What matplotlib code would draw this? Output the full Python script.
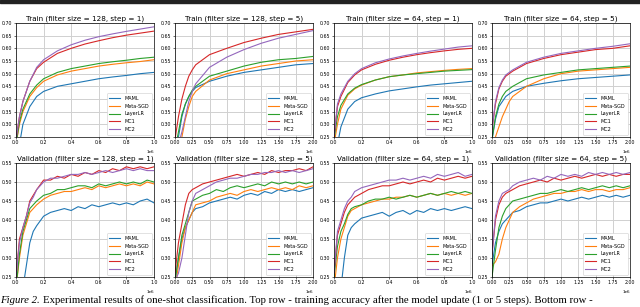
import matplotlib
matplotlib.use("Agg")
import matplotlib.pyplot as plt
from matplotlib.patches import Rectangle

names = ['MAML', 'Meta-SGD', 'LayerLR', 'MC1', 'MC2']
colors = ['#1f77b4', '#ff7f0e', '#2ca02c', '#d62728', '#9467bd']

# x in millions of iterations
train_x1 = [0, .025, .05, .1, .15, .2, .3, .4, .5, .6, .7, .8, .9, 1.0]
train_x5 = [0, .05, .1, .15, .2, .25, .3, .5, .75, 1.0, 1.25, 1.5, 1.75, 2.0]
val_x1 = [0, .025, .05, .075, .1, .125, .15, .2, .25, .3, .35, .4, .45, .5,
          .55, .6, .65, .7, .75, .8, .85, .9, .95, 1.0]
val_x5 = [0, .05, .1, .15, .2, .25, .3, .4, .5, .6, .7, .8, .9, 1.0,
          1.1, 1.2, 1.3, 1.4, 1.5, 1.6, 1.7, 1.8, 1.9, 2.0]

# Train (filter size = 128, step = 1)
tr128_1 = [
    [0.15, 0.22, 0.30, 0.37, 0.41, 0.43, 0.45, 0.46, 0.47, 0.48, 0.487, 0.493, 0.50, 0.505],
    [0.22, 0.30, 0.35, 0.41, 0.445, 0.47, 0.495, 0.51, 0.52, 0.53, 0.537, 0.543, 0.548, 0.555],
    [0.22, 0.31, 0.36, 0.42, 0.455, 0.48, 0.505, 0.52, 0.53, 0.54, 0.547, 0.553, 0.56, 0.565],
    [0.24, 0.33, 0.39, 0.47, 0.52, 0.545, 0.58, 0.60, 0.617, 0.63, 0.642, 0.652, 0.66, 0.668],
    [0.24, 0.33, 0.39, 0.47, 0.525, 0.555, 0.59, 0.614, 0.632, 0.646, 0.657, 0.667, 0.676, 0.685],
]
# Train (filter size = 128, step = 5)
tr128_5 = [
    [0.20, 0.25, 0.33, 0.38, 0.41, 0.43, 0.445, 0.47, 0.49, 0.505, 0.515, 0.525, 0.535, 0.54],
    [0.18, 0.20, 0.25, 0.32, 0.37, 0.41, 0.43, 0.475, 0.50, 0.515, 0.53, 0.54, 0.55, 0.555],
    [0.20, 0.27, 0.34, 0.38, 0.41, 0.435, 0.45, 0.49, 0.51, 0.53, 0.545, 0.555, 0.56, 0.568],
    [0.24, 0.33, 0.40, 0.45, 0.49, 0.515, 0.535, 0.575, 0.60, 0.623, 0.64, 0.655, 0.665, 0.675],
    [0.18, 0.22, 0.27, 0.33, 0.39, 0.43, 0.46, 0.525, 0.565, 0.595, 0.62, 0.64, 0.655, 0.67],
]
# Train (filter size = 64, step = 1)
tr64_1 = [
    [0.15, 0.22, 0.29, 0.36, 0.39, 0.405, 0.42, 0.432, 0.44, 0.448, 0.455, 0.46, 0.465, 0.47],
    [0.22, 0.30, 0.36, 0.415, 0.44, 0.455, 0.475, 0.488, 0.495, 0.503, 0.508, 0.513, 0.517, 0.52],
    [0.24, 0.33, 0.375, 0.42, 0.443, 0.457, 0.475, 0.488, 0.495, 0.50, 0.505, 0.51, 0.513, 0.516],
    [0.25, 0.37, 0.41, 0.465, 0.495, 0.515, 0.537, 0.553, 0.565, 0.575, 0.583, 0.59, 0.596, 0.60],
    [0.25, 0.38, 0.42, 0.47, 0.50, 0.52, 0.543, 0.558, 0.57, 0.58, 0.589, 0.597, 0.605, 0.61],
]
# Train (filter size = 64, step = 5)
tr64_5 = [
    [0.24, 0.32, 0.37, 0.39, 0.41, 0.42, 0.43, 0.45, 0.462, 0.472, 0.48, 0.485, 0.49, 0.495],
    [0.20, 0.25, 0.29, 0.33, 0.36, 0.39, 0.41, 0.45, 0.48, 0.50, 0.51, 0.515, 0.52, 0.525],
    [0.24, 0.33, 0.38, 0.41, 0.43, 0.44, 0.45, 0.48, 0.495, 0.505, 0.515, 0.52, 0.525, 0.53],
    [0.28, 0.38, 0.44, 0.47, 0.49, 0.50, 0.51, 0.54, 0.56, 0.575, 0.585, 0.595, 0.60, 0.61],
    [0.28, 0.39, 0.445, 0.475, 0.495, 0.505, 0.515, 0.545, 0.565, 0.58, 0.59, 0.60, 0.608, 0.618],
]

# Validation (filter size = 128, step = 1)
va128_1 = [
    [0.15, 0.18, 0.22, 0.28, 0.34, 0.37, 0.385, 0.41, 0.42, 0.425, 0.43, 0.425, 0.435, 0.43,
     0.44, 0.435, 0.44, 0.445, 0.44, 0.445, 0.44, 0.45, 0.455, 0.445],
    [0.22, 0.30, 0.36, 0.39, 0.42, 0.43, 0.44, 0.455, 0.465, 0.47, 0.475, 0.475, 0.48, 0.485,
     0.48, 0.49, 0.485, 0.49, 0.495, 0.49, 0.495, 0.49, 0.50, 0.495],
    [0.22, 0.31, 0.37, 0.40, 0.43, 0.44, 0.45, 0.465, 0.47, 0.48, 0.48, 0.485, 0.49, 0.49,
     0.485, 0.495, 0.49, 0.495, 0.50, 0.495, 0.50, 0.495, 0.505, 0.50],
    [0.25, 0.35, 0.38, 0.41, 0.45, 0.465, 0.48, 0.505, 0.505, 0.515, 0.51, 0.52, 0.515, 0.525,
     0.52, 0.53, 0.525, 0.535, 0.53, 0.54, 0.535, 0.54, 0.535, 0.54],
    [0.25, 0.34, 0.38, 0.41, 0.445, 0.46, 0.48, 0.50, 0.51, 0.51, 0.515, 0.52, 0.52, 0.525,
     0.52, 0.525, 0.53, 0.525, 0.53, 0.535, 0.53, 0.535, 0.53, 0.53],
]
# Validation (filter size = 128, step = 5)
va128_5 = [
    [0.24, 0.30, 0.35, 0.38, 0.40, 0.42, 0.43, 0.435, 0.445, 0.45, 0.455, 0.46, 0.455, 0.465,
     0.47, 0.465, 0.475, 0.47, 0.48, 0.475, 0.48, 0.475, 0.48, 0.485],
    [0.22, 0.28, 0.34, 0.38, 0.40, 0.42, 0.44, 0.445, 0.45, 0.46, 0.465, 0.47, 0.465, 0.475,
     0.48, 0.475, 0.48, 0.485, 0.48, 0.485, 0.48, 0.49, 0.485, 0.49],
    [0.24, 0.30, 0.36, 0.39, 0.42, 0.45, 0.455, 0.465, 0.47, 0.48, 0.475, 0.485, 0.49, 0.485,
     0.49, 0.495, 0.49, 0.50, 0.495, 0.50, 0.495, 0.50, 0.495, 0.50],
    [0.26, 0.34, 0.39, 0.44, 0.47, 0.48, 0.485, 0.495, 0.50, 0.505, 0.51, 0.515, 0.52, 0.515,
     0.52, 0.525, 0.52, 0.53, 0.525, 0.53, 0.53, 0.535, 0.53, 0.54],
    [0.24, 0.26, 0.30, 0.36, 0.42, 0.45, 0.47, 0.48, 0.49, 0.50, 0.505, 0.51, 0.51, 0.515,
     0.52, 0.52, 0.525, 0.525, 0.53, 0.525, 0.53, 0.525, 0.53, 0.535],
]
# Validation (filter size = 64, step = 1)
va64_1 = [
    [0.15, 0.18, 0.22, 0.30, 0.36, 0.38, 0.39, 0.405, 0.41, 0.415, 0.42, 0.41, 0.42, 0.425,
     0.415, 0.425, 0.42, 0.43, 0.425, 0.43, 0.425, 0.43, 0.435, 0.43],
    [0.22, 0.30, 0.35, 0.38, 0.41, 0.425, 0.43, 0.44, 0.445, 0.45, 0.455, 0.455, 0.46, 0.46,
     0.465, 0.46, 0.465, 0.47, 0.465, 0.47, 0.465, 0.47, 0.465, 0.47],
    [0.25, 0.33, 0.37, 0.39, 0.415, 0.43, 0.435, 0.44, 0.45, 0.455, 0.455, 0.46, 0.455, 0.46,
     0.465, 0.46, 0.465, 0.47, 0.465, 0.47, 0.475, 0.47, 0.475, 0.47],
    [0.26, 0.36, 0.39, 0.42, 0.44, 0.45, 0.46, 0.47, 0.48, 0.485, 0.49, 0.49, 0.495, 0.50,
     0.495, 0.50, 0.505, 0.50, 0.51, 0.505, 0.51, 0.515, 0.51, 0.515],
    [0.26, 0.37, 0.40, 0.43, 0.45, 0.46, 0.475, 0.485, 0.49, 0.495, 0.50, 0.505, 0.505, 0.51,
     0.505, 0.51, 0.515, 0.51, 0.52, 0.515, 0.52, 0.525, 0.515, 0.52],
]
# Validation (filter size = 64, step = 5)
va64_5 = [
    [0.28, 0.34, 0.37, 0.39, 0.40, 0.41, 0.42, 0.425, 0.435, 0.44, 0.445, 0.445, 0.45, 0.455,
     0.45, 0.455, 0.46, 0.455, 0.46, 0.465, 0.46, 0.465, 0.46, 0.465],
    [0.28, 0.29, 0.31, 0.35, 0.38, 0.40, 0.42, 0.435, 0.445, 0.455, 0.46, 0.465, 0.47, 0.47,
     0.475, 0.475, 0.48, 0.475, 0.48, 0.48, 0.475, 0.48, 0.48, 0.485],
    [0.25, 0.32, 0.38, 0.41, 0.43, 0.44, 0.45, 0.455, 0.46, 0.465, 0.47, 0.47, 0.475, 0.48,
     0.475, 0.48, 0.485, 0.48, 0.485, 0.49, 0.485, 0.49, 0.485, 0.49],
    [0.31, 0.40, 0.44, 0.46, 0.47, 0.475, 0.48, 0.49, 0.495, 0.50, 0.505, 0.50, 0.51, 0.505,
     0.51, 0.515, 0.51, 0.515, 0.52, 0.515, 0.52, 0.515, 0.52, 0.52],
    [0.31, 0.41, 0.45, 0.47, 0.475, 0.48, 0.49, 0.50, 0.505, 0.51, 0.505, 0.515, 0.51, 0.52,
     0.515, 0.52, 0.515, 0.525, 0.52, 0.525, 0.52, 0.525, 0.52, 0.525],
]

panels = [
    ("Train (filter size = 128, step = 1)", train_x1, tr128_1, 1),
    ("Train (filter size = 128, step = 5)", train_x5, tr128_5, 5),
    ("Train (filter size = 64, step = 1)", train_x1, tr64_1, 1),
    ("Train (filter size = 64, step = 5)", train_x5, tr64_5, 5),
    ("Validation (filter size = 128, step = 1)", val_x1, va128_1, 1),
    ("Validation (filter size = 128, step = 5)", val_x5, va128_5, 5),
    ("Validation (filter size = 64, step = 1)", val_x1, va64_1, 1),
    ("Validation (filter size = 64, step = 5)", val_x5, va64_5, 5),
]

W, H = 640, 307
fig = plt.figure(figsize=(W / 100, H / 100), dpi=100)
fig.patches.append(Rectangle((0, 1 - 2.5 / H), 1, 2.5 / H, transform=fig.transFigure,
                             color='#222222', zorder=10))

lefts = [16, 175, 334, 492]
tops = [23, 163]
aw, ah = 138, 114

for i, (title, xs, series, step) in enumerate(panels):
    row, col = divmod(i, 4)
    ax = fig.add_axes([lefts[col] / W, (H - tops[row] - ah) / H, aw / W, ah / H])
    for name, c, ys in zip(names, colors, series):
        ax.plot([x * 1e6 for x in xs], ys, color=c, lw=0.8, label=name)
    ax.set_title(title, fontsize=5.2, pad=2)
    if step == 1:
        ax.set_xlim(0, 1e6)
        ax.set_xticks([0, 2e5, 4e5, 6e5, 8e5, 1e6])
    else:
        ax.set_xlim(0, 2e6)
        ax.set_xticks([0, 2.5e5, 5e5, 7.5e5, 1e6, 1.25e6, 1.5e6, 1.75e6, 2e6])
    if row == 0:
        ax.set_ylim(0.25, 0.70)
        ax.set_yticks([0.25, 0.30, 0.35, 0.40, 0.45, 0.50, 0.55, 0.60, 0.65, 0.70])
    else:
        ax.set_ylim(0.25, 0.55)
        ax.set_yticks([0.25, 0.30, 0.35, 0.40, 0.45, 0.50, 0.55])
    ax.grid(True, color='#d0d0d0', lw=0.7)
    ax.tick_params(labelsize=3.4, length=1.5, width=0.4, pad=1)
    ax.xaxis.get_offset_text().set_fontsize(3)
    for s in ax.spines.values():
        s.set_linewidth(0.5)
    leg = ax.legend(loc='lower right', fontsize=3.5, handlelength=2.2, borderpad=0.6,
                    labelspacing=0.55, frameon=True, framealpha=1, edgecolor='#cccccc')
    leg.get_frame().set_linewidth(0.4)

t1 = fig.text(0.0, 4 / H, "Figure 2.", fontsize=7.75, family='Liberation Serif',
              style='italic', va='baseline')
fig.canvas.draw()
bb = t1.get_window_extent()
fig.text((bb.x1 + 3) / W, 4 / H,
         "Experimental results of one-shot classification. Top row - training accuracy after the model update (1 or 5 steps). Bottom row -",
         fontsize=7.75, family='Liberation Serif', va='baseline')

fig.savefig("out.png", dpi=100)
